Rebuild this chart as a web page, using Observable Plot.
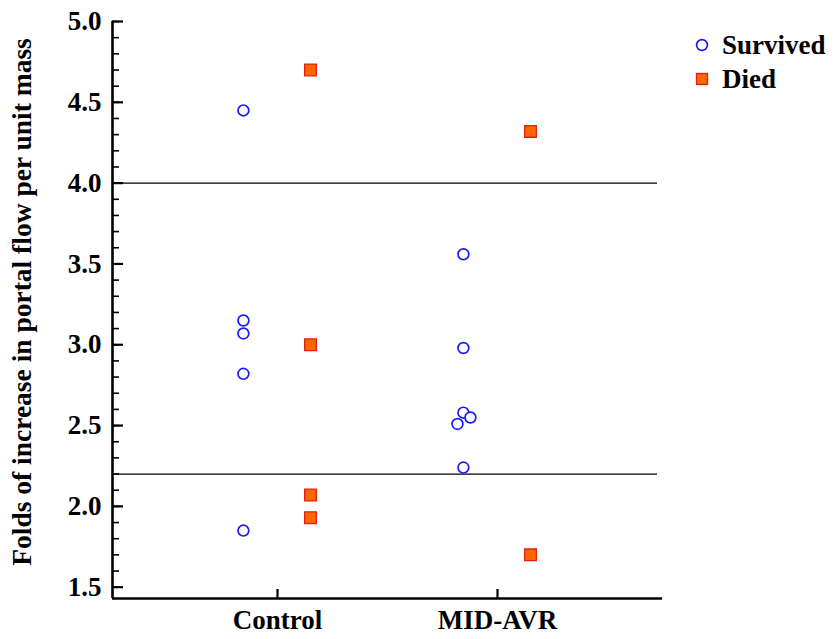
<!DOCTYPE html>
<html>
<head>
<meta charset="utf-8">
<script src="https://cdn.jsdelivr.net/npm/d3@7"></script>
<script src="https://cdn.jsdelivr.net/npm/@observablehq/plot@0.6"></script>
<style>
  html, body { margin: 0; padding: 0; background: #fff; }
  #wrap { position: relative; width: 834px; height: 639px; font-family: "Liberation Serif", "Times New Roman", serif; }
  #legend { position: absolute; left: 694px; top: 28px; font-weight: bold; font-size: 27px; line-height: 34px; color: #000; }
  #legend div { display: flex; align-items: center; }
  #legend svg { margin-right: 12px; }
</style>
</head>
<body>
<div id="wrap">
  <div id="chart"></div>
  <div id="legend"></div>
</div>
<script>
// ---- data ----
const groups = ["Control", "MID-AVR"];
const outcomes = ["Survived", "Died"];
const controlSurvived = [4.45, 3.15, 3.07, 2.82, 1.85];
const controlDied = [4.70, 3.00, 2.07, 1.93];
const midSurvived = [3.56, 2.98, 2.58, 2.55, 2.51, 2.24];
const midSurvivedJitter = [0, 0, 0, 0.032, -0.027, 0];
const midDied = [4.32, 1.70];
const thresholds = [4.0, 2.2];
const yTicks = [1.5, 2.0, 2.5, 3.0, 3.5, 4.0, 4.5, 5.0];
const yMinorTicks = d3.range(15, 51).map(d => d / 10);
const yLabel = "Folds of increase in portal flow per unit mass";

// ---- table built from arrays ----
const offset = {Survived: -0.155, Died: 0.15};
const rows = [];
function add(groupIdx, outcome, values, jitter) {
  values.forEach((v, i) => rows.push({group: groupIdx + 1, outcome, value: v, jit: jitter ? jitter[i] : 0}));
}
add(0, "Survived", controlSurvived);
add(0, "Died", controlDied);
add(1, "Survived", midSurvived, midSurvivedJitter);
add(1, "Died", midDied);
rows.forEach(r => r.x = r.group + offset[r.outcome] + r.jit);

const font = "Liberation Serif, Times New Roman, serif";
const xDomain = [0.25, 2.75];
const yDomain = [1.43, 5.0];

const chart = Plot.plot({
  width: 834,
  height: 639,
  marginLeft: 112,
  marginRight: 172,
  marginTop: 21,
  marginBottom: 41,
  style: {fontFamily: font, background: "#fff", overflow: "visible"},
  x: {type: "linear", domain: xDomain, axis: null},
  y: {type: "linear", domain: yDomain, axis: null},
  marks: [
    Plot.ruleY(thresholds, {stroke: "#000", strokeWidth: 1.2, insetRight: 5}),
    // y tick labels
    Plot.axisY({ticks: yTicks, tickSize: 0, tickPadding: 11, tickFormat: d3.format(".1f"),
      fontSize: 27, fontWeight: "bold", fill: "#000", label: null}),
    // major ticks (inward)
    Plot.axisY({ticks: yTicks, tickSize: -11, tickFormat: () => "", label: null, strokeWidth: 2.2, stroke: "#000"}),
    // minor ticks (inward)
    Plot.axisY({ticks: yMinorTicks, tickSize: -7, tickFormat: () => "", label: null, strokeWidth: 1.6, stroke: "#000"}),
    // x ticks (inward)
    Plot.axisX({ticks: [1, 2], tickSize: -9, tickFormat: () => "", label: null, strokeWidth: 2.2, stroke: "#000"}),
    // x labels
    Plot.axisX({ticks: [1, 2], tickSize: 0, tickPadding: 11, tickFormat: d => groups[d - 1],
      fontSize: 27, fontWeight: "bold", fill: "#000", label: null}),
    // axis lines
    Plot.ruleX([xDomain[0]], {stroke: "#000", strokeWidth: 2.6}),
    Plot.ruleY([yDomain[0]], {stroke: "#000", strokeWidth: 2.6}),
    // y axis title
    Plot.text([yLabel], {frameAnchor: "left", dx: -90, dy: -8, rotate: -90, text: d => d, textAnchor: "middle",
      fontSize: 27.5, fontWeight: "bold", fill: "#000"}),
    // points
    Plot.dot(rows.filter(d => d.outcome === "Survived"), {x: "x", y: "value", symbol: "circle", r: 5.4,
      stroke: "#1a1aff", strokeWidth: 1.7, fill: "#fff"}),
    Plot.dot(rows.filter(d => d.outcome === "Died"), {x: "x", y: "value", symbol: "square", r: 6.6,
      stroke: "#e02010", strokeWidth: 1.3, fill: "#ff6600"})
  ]
});
document.getElementById("chart").appendChild(chart);

// legend
const legend = document.getElementById("legend");
const sym = {
  Survived: '<svg width="16" height="16"><circle cx="8" cy="8" r="5.4" fill="#fff" stroke="#1a1aff" stroke-width="1.7"/></svg>',
  Died: '<svg width="16" height="16"><rect x="2.5" y="2.5" width="11" height="11" fill="#ff6600" stroke="#e02010" stroke-width="1.3"/></svg>'
};
outcomes.forEach(o => {
  const div = document.createElement("div");
  div.innerHTML = sym[o] + "<span>" + o + "</span>";
  legend.appendChild(div);
});
</script>
</body>
</html>
